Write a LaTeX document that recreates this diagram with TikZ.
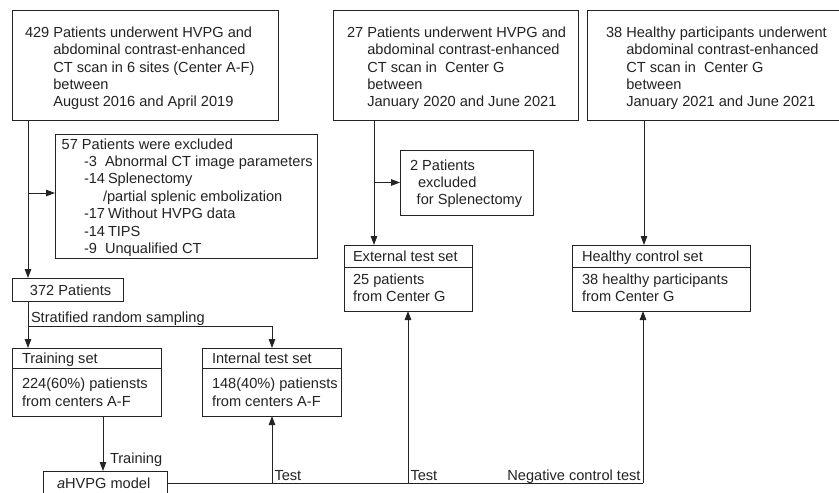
\documentclass[tikz,border=0pt]{standalone}
\usepackage{fontspec}
\setmainfont{Liberation Sans}
\usetikzlibrary{arrows.meta}
\definecolor{ink}{RGB}{35,35,35}
\begin{document}
\begin{tikzpicture}[x=1pt,y=-1pt,
  font=\fontsize{14.6}{17.4}\selectfont,
  box/.style={draw=ink, line width=1pt, inner sep=0pt, outer sep=0pt, anchor=north west},
  txt/.style={anchor=base west, inner sep=0pt, outer sep=0pt, text=ink},
  arr/.style={draw=ink, line width=1pt, -{Triangle[length=9pt,width=6.5pt]}},
  ln/.style={draw=ink, line width=1pt}]
\useasboundingbox (0,0) rectangle (839,493);
\fill[white] (0,0) rectangle (839,493);
\clip (0,0) rectangle (839,493);

% ---------- top boxes ----------
\node[box, minimum width=266pt, minimum height=110pt] (b1) at (12,10) {};
\node[txt] (b1n) at (25,37.3) {429};
\foreach \t [count=\i from 0] in {Patients underwent HVPG and,abdominal contrast-enhanced,CT scan in 6 sites (Center A-F),between,August 2016 and April 2019}
  \node[txt] (b1l\i) at (53.3,37.3+17.4*\i) {\t};

\node[box, minimum width=245pt, minimum height=110pt] (b2) at (333,10) {};
\node[txt] (b2n) at (347,37.3) {27};
\foreach \t [count=\i from 0] in {Patients underwent HVPG and,abdominal contrast-enhanced,CT scan in\ \ Center G,between,January 2020 and June 2021}
  \node[txt] (b2l\i) at (367.3,37.3+17.4*\i) {\t};

\node[box, minimum width=260pt, minimum height=110pt] (b3) at (587,10) {};
\node[txt] (b3n) at (606,37.3) {38};
\foreach \t [count=\i from 0] in {Healthy participants underwent,abdominal contrast-enhanced,CT scan in\ \ Center G,between,January 2021 and June 2021}
  \node[txt] (b3l\i) at (626.3,37.3+17.4*\i) {\t};

% ---------- exclusion boxes ----------
\node[box, minimum width=262pt, minimum height=124pt] (exc) at (55,134) {};
\node[txt] (e0) at (61.7,149) {57 Patients were excluded};
\node[txt] (e1a) at (84,166.4) {-3};  \node[txt] (e1b) at (105,166.4) {Abnormal CT image parameters};
\node[txt] (e2a) at (84,183.8) {-14}; \node[txt] (e2b) at (108,183.8) {Splenectomy};
\node[txt] (e3b) at (103,201.2) {/partial splenic embolization};
\node[txt] (e4a) at (84,218.6) {-17}; \node[txt] (e4b) at (108,218.6) {Without HVPG data};
\node[txt] (e5a) at (84,236) {-14};   \node[txt] (e5b) at (108,236) {TIPS};
\node[txt] (e6a) at (84,253.4) {-9};  \node[txt] (e6b) at (105,253.4) {Unqualified CT};

\node[box, minimum width=133pt, minimum height=65pt] (exc2) at (400,150) {};
\node[txt] (x0) at (410,170) {2 Patients};
\node[txt] (x1) at (418,187.3) {excluded};
\node[txt] (x2) at (416.7,204.6) {for Splenectomy};

% ---------- middle boxes ----------
\node[box, minimum width=111pt, minimum height=23pt] (p372) at (12,278) {};
\node[txt] (p372t) at (30,295) {372 Patients};

\node[box, minimum width=149pt, minimum height=68pt] (train) at (12,348) {};
\draw[ln] (train.west |- 0,368) -- (train.east |- 0,368);
\node[txt] (tr0) at (22,363.5) {Training set};
\node[txt] (tr1) at (22,388) {224(60\%) patiensts};
\node[txt] (tr2) at (22,406) {from centers A-F};

\node[box, minimum width=139pt, minimum height=68pt] (intl) at (202,348) {};
\draw[ln] (intl.west |- 0,368) -- (intl.east |- 0,368);
\node[txt] (in0) at (212,363.5) {Internal test set};
\node[txt] (in1) at (212,388) {148(40\%) patiensts};
\node[txt] (in2) at (212,406) {from centers A-F};

\node[box, minimum width=128pt, minimum height=66pt] (ext) at (344,245) {};
\draw[ln] (ext.west |- 0,267) -- (ext.east |- 0,267);
\node[txt] (ex0) at (353,261) {External test set};
\node[txt] (ex1) at (353,284) {25 patients};
\node[txt] (ex2) at (353,301) {from Center G};

\node[box, minimum width=178pt, minimum height=66pt] (hc) at (572,245) {};
\draw[ln] (hc.west |- 0,267) -- (hc.east |- 0,267);
\node[txt] (hc0) at (582,261) {Healthy control set};
\node[txt] (hc1) at (582,284) {38 healthy participants};
\node[txt] (hc2) at (582,301) {from Center G};

\node[box, minimum width=124pt, minimum height=24pt] (model) at (43,471) {};
\node[txt] (modt) at (57,488) {\textit{a}HVPG model};

% ---------- connectors ----------
\draw[arr] ([xshift=16pt]b1.south west) -- ([xshift=16pt]p372.north west);
\coordinate (j1) at (28,193);
\draw[arr] (j1) -- (j1 -| exc.west);

\coordinate (c2) at (374,0);
\draw[arr] (b2.south -| c2) -- (c2 |- ext.north);
\draw[arr] (exc2.west -| c2) -- (exc2.west);

\coordinate (c3) at (644,0);
\draw[arr] (b3.south -| c3) -- (c3 |- hc.north);

\draw[arr] ([xshift=16pt]p372.south west) -- ([xshift=16pt]train.north west);
\coordinate (j2) at (28,326);
\coordinate (j3) at (272,326);
\draw[arr] (j2) -- (j3) -- (j3 |- intl.north);
\node[txt] (strat) at (31,322.5) {Stratified random sampling};

\draw[arr] ([xshift=91pt]train.south west) -- ([xshift=60pt]model.north west);
\node[txt] (trl) at (110,463) {Training};

\coordinate (k1) at (272,483);
\coordinate (k2) at (408,483);
\coordinate (k3) at (643,483);
\draw[ln] (model.east) -- (k3);
\draw[arr] (k1) -- (k1 |- intl.south);
\draw[arr] (k2) -- (k2 |- ext.south);
\draw[arr] (k3) -- (k3 |- hc.south);
\node[txt] (t1) at (274.5,480) {Test};
\node[txt] (t2) at (410.5,480) {Test};
\node[txt, anchor=base east] (t3) at (640.5,480) {Negative control test};
\end{tikzpicture}
\end{document}
